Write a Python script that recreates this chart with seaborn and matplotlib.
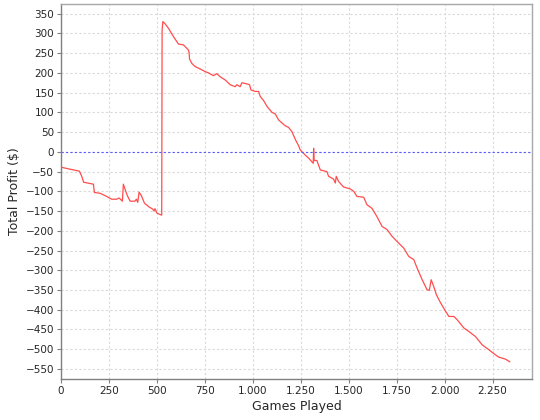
import seaborn as sns
import pandas as pd
import matplotlib
matplotlib.use("Agg")
import matplotlib.pyplot as plt
from matplotlib.ticker import FuncFormatter, MultipleLocator

# cumulative profit
games = [0, 1, 47, 96, 108, 118, 169, 174, 204, 238, 264, 290, 303, 320, 325,
         334, 345, 360, 385, 393, 400, 407, 420, 435, 460, 478, 485, 490, 500,
         522, 525, 527, 531, 543, 560, 586, 604, 612, 638, 656, 664, 668, 670,
         682, 699, 725, 752, 769, 786, 795, 812, 830, 856, 882, 908, 917, 934,
         943, 969, 983, 990, 1012, 1030, 1039, 1056, 1074, 1100, 1117, 1134,
         1152, 1169, 1186, 1204, 1221, 1239, 1247, 1273, 1291, 1315, 1317, 1320,
         1334, 1352, 1386, 1395, 1421, 1430, 1435, 1447, 1473, 1508, 1526, 1543,
         1578, 1595, 1621, 1647, 1674, 1700, 1726, 1752, 1787, 1813, 1839, 1857,
         1883, 1908, 1920, 1930, 1943, 1957, 1975, 1995, 2022, 2048, 2065, 2100,
         2126, 2161, 2196, 2230, 2256, 2282, 2317, 2340]
profit = [0, -39, -44, -49, -62, -77, -82, -103, -105, -113, -120, -120, -117, -125, -82,
          -95, -110, -125, -125, -120, -128, -102, -112, -130, -140, -145, -150, -144, -155,
          -160, -160, 309, 330, 324, 313, 292, 279, 273, 271, 262, 258, 251, 235,
          224, 216, 210, 203, 200, 195, 193, 198, 190, 182, 170, 165, 170, 165,
          175, 172, 170, 157, 153, 153, 140, 130, 115, 100, 96, 81,
          73, 66, 62, 51, 32, 15, 5, -8, -16, -29, 9, -22,
          -22, -46, -50, -62, -69, -79, -62, -75, -89, -94, -100, -113,
          -115, -134, -143, -164, -189, -197, -214, -227, -244, -265, -273, -295,
          -324, -349, -351, -324, -341, -362, -379, -396, -417, -417, -425, -446,
          -455, -468, -489, -501, -511, -520, -525, -532]

df = pd.DataFrame({"Games Played": games, "Total Profit ($)": profit})

sns.set_style("white")
plt.rcParams['font.family'] = ['DejaVu Sans']

fig = plt.figure(figsize=(5.4, 4.2), dpi=100)
ax = fig.add_axes([0.113, 0.098, 0.872, 0.893])

sns.lineplot(data=df, x="Games Played", y="Total Profit ($)", ax=ax,
             color="#ff4d4d", linewidth=0.9)
ax.axhline(0, color="#5a5aff", linewidth=0.8, linestyle=(0, (2, 2)))

ax.set_xlim(0, 2455)
ax.set_ylim(-575, 375)
ax.xaxis.set_major_locator(MultipleLocator(250))
ax.yaxis.set_major_locator(MultipleLocator(50))
ax.xaxis.set_major_formatter(FuncFormatter(lambda v, p: f"{v:,.0f}".replace(",", ".")))
ax.grid(True, color="#d9d9d9", linestyle=(0, (2, 2)), linewidth=0.8)
ax.set_axisbelow(True)

for s in ax.spines.values():
    s.set_color("#a8a8a8")
    s.set_linewidth(1)
ax.spines["left"].set_color("#808080")
ax.spines["bottom"].set_color("#808080")
ax.tick_params(axis="both", direction="out", length=3, width=0.8, color="#808080",
               labelsize=7.5, pad=2, bottom=True, left=True)
ax.set_xlabel("Games Played", fontsize=9, labelpad=3)
ax.set_ylabel("Total Profit ($)", fontsize=9, labelpad=3)

fig.savefig("out.png", dpi=100)
